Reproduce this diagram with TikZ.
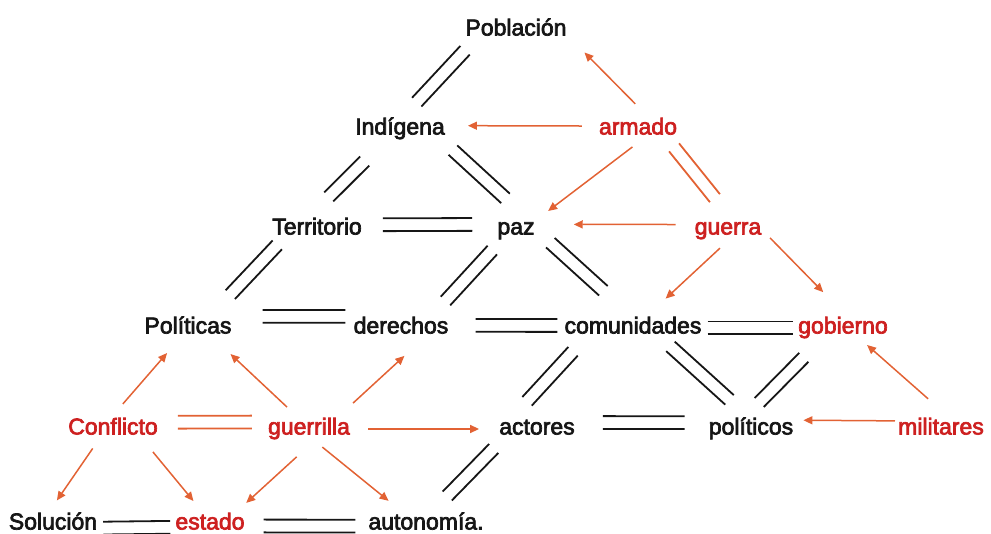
\documentclass[tikz,border=0pt]{standalone}
\usepackage{fontspec}
\setmainfont{Liberation Sans}
\newfontfamily\wordfont{Liberation Sans}[FakeBold=3]
\usepackage{tikz}
\usetikzlibrary{arrows.meta}
\usetikzlibrary{calc}
\definecolor{linkorange}{RGB}{226,98,52}
\definecolor{wordred}{RGB}{205,32,32}
\definecolor{wordblack}{RGB}{22,22,22}
\newcommand{\twinline}[5][wordblack]{%
   \draw[strand, draw=#1] ($(#2)!#4!(#3)!6.4pt!90:(#3)$) -- ($(#3)!#5!(#2)!6.4pt!-90:(#2)$);
   \draw[strand, draw=#1] ($(#2)!#4!(#3)!6.4pt!-90:(#3)$) -- ($(#3)!#5!(#2)!6.4pt!90:(#2)$);}

\begin{document}
\begin{tikzpicture}[x=1pt, y=-1pt,
   word/.style={inner sep=3pt, text height=16pt, text depth=5pt, text=wordblack,
      font=\wordfont\fontsize{23}{27}\selectfont},
   hot/.style={word, text=wordred},
   strand/.style={line width=1.8pt},
   arr/.style={draw=linkorange, line width=1.5pt, -{Triangle[length=9pt,width=8pt]}}
]
   \useasboundingbox (0,0) rectangle (991,534);

   \node[word] (pob) at (516,30) {Población};
   \node[word] (ind) at (400,129) {Indígena};
   \node[hot] (arm) at (638,129) {armado};
   \node[word] (ter) at (317,229) {Territorio};
   \node[word] (paz) at (516,229) {paz};
   \node[hot] (gue) at (728,229) {guerra};
   \node[word] (pol) at (188,328) {Políticas};
   \node[word] (der) at (401,328) {derechos};
   \node[word] (com) at (633,328) {comunidades};
   \node[hot] (gob) at (843,328) {gobierno};
   \node[hot] (con) at (113,429) {Conflicto};
   \node[hot] (grl) at (309,429) {guerrilla};
   \node[word] (act) at (537,429) {actores};
   \node[word] (pols) at (751,429) {políticos};
   \node[hot] (mil) at (941,429) {militares};
   \node[word] (sol) at (53,524) {Solución};
   \node[hot] (est) at (210,524) {estado};
   \node[word] (aut) at (426,524) {autonomía.};

   \twinline{ind.72}{pob.197}{18pt}{9pt}
   \twinline{ind.219}{ter.116}{26pt}{26pt}
   \twinline{ind.343}{paz.60}{11pt}{25pt}
   \twinline[linkorange]{arm.337}{gue.87}{6pt}{22pt}
   \twinline{ter.5}{paz.168}{18pt}{22pt}
   \twinline{ter.200}{pol.30}{3pt}{27pt}
   \twinline{paz.219}{der.23}{10pt}{18pt}
   \twinline{paz.354}{com.105}{17pt}{35pt}
   \twinline{pol.14}{der.167}{28pt}{5pt}
   \twinline{der.3}{com.178}{24pt}{4pt}
   \twinline{com.east}{gob.west}{3pt}{2pt}
   \twinline{com.195}{act.149}{13pt}{19pt}
   \twinline{com.337}{pols.108}{7pt}{23pt}
   \twinline{gob.210}{pols.108}{22pt}{18pt}
   \twinline{act.9}{pols.172}{25pt}{21pt}
   \twinline[linkorange]{con.8}{grl.171}{17pt}{13pt}
   \twinline{act.200}{aut.62}{8pt}{20pt}
   \twinline{sol.355}{est.185}{3pt}{2pt}
   \twinline{est.357}{aut.182}{16pt}{10pt}

   \draw[arr, shorten <=16pt, shorten >=21pt] (arm.58) -- (pob.352);
   \draw[arr, shorten <=14pt, shorten >=20pt] (arm.176) -- (ind.4);
   \draw[arr, shorten <=7pt, shorten >=13pt] (arm.south) -- (paz.25);
   \draw[arr, shorten <=16pt, shorten >=36pt] (gue.173) -- (paz.12);
   \draw[arr, shorten <=8pt, shorten >=23pt] (gue.261) -- (com.41);
   \draw[arr, shorten <=8pt, shorten >=31pt] (gue.355) -- (gob.82);
   \draw[arr, shorten <=25pt, shorten >=5pt] (mil.67) -- (gob.326);
   \draw[arr, shorten >=7pt] (mil.170) -- (pols.11);
   \draw[arr, shorten <=15pt, shorten >=17pt] (grl.east) -- (act.west);
   \draw[arr, shorten <=12pt, shorten >=18pt] (grl.134) -- (pol.335);
   \draw[arr, shorten <=18pt, shorten >=21pt] (grl.24) -- (der.324);
   \draw[arr, shorten <=15pt, shorten >=15pt] (con.north) -- (pol.231);
   \draw[arr, shorten <=7pt, shorten >=12pt] (con.220) -- (sol.102);
   \draw[arr, shorten <=12pt, shorten >=12pt] (con.337) -- (est.123);
   \draw[arr, shorten <=21pt, shorten >=11pt] (grl.283) -- (est.26);
   \draw[arr, shorten <=7pt, shorten >=15pt] (grl.300) -- (aut.152);
\end{tikzpicture}
\end{document}
